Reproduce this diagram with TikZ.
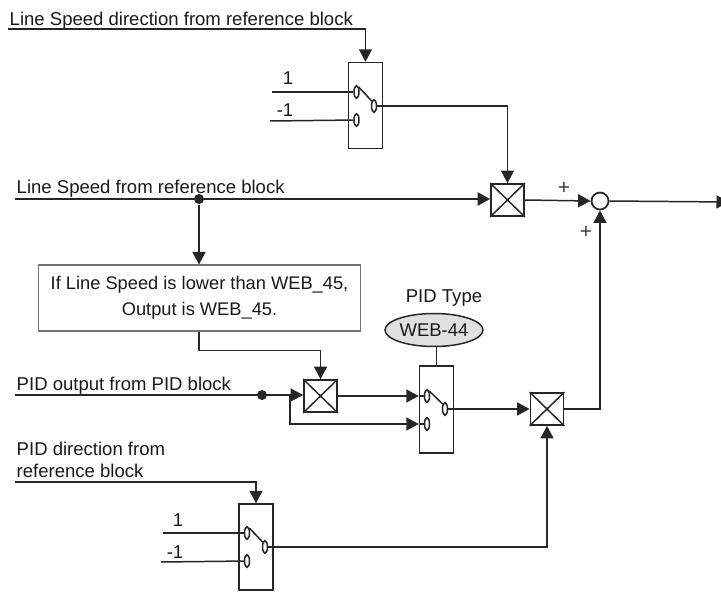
\documentclass[tikz,border=0pt]{standalone}
\usepackage{fontspec}
\setmainfont{Liberation Sans}
\usepackage{xcolor}
\usetikzlibrary{arrows.meta,positioning,shapes}

\begin{document}
\begin{tikzpicture}[x=0.02cm,y=-0.02cm,
    line width=0.85pt, black!85,
    arrow/.style={-{Triangle[length=2.5mm,width=2.6mm]}},
    mainline/.style={line width=1.3pt},
    label/.style={inner sep=0pt, font=\fontsize{10.55}{12}\selectfont, text=black!90},
    multbox/.style={draw, rectangle, inner sep=0pt, minimum width=0.66cm, minimum height=0.64cm, line width=1pt},
    switchbox/.style={draw, rectangle, inner sep=0pt, minimum width=0.68cm, minimum height=1.72cm},
    contact/.style={draw, ellipse, inner sep=0pt, minimum width=0.1cm, minimum height=0.25cm, fill=white, line width=0.85pt},
    junction/.style={circle, fill=black!85, inner sep=0pt, minimum size=0.2cm},
    sumnode/.style={draw, circle, inner sep=0pt, minimum size=0.34cm, line width=1pt},
    plus/.style={inner sep=0pt, font=\fontsize{12}{12}\selectfont, text=black!75}]
    \useasboundingbox (0,0) rectangle (721,592);

    % Top switch (line speed direction)
    \node[label, anchor=west] (dirtext) at (9,21) {Line Speed direction from reference block};
    \coordinate (dirstart) at (8,29);
    \node[switchbox] (swtop) at (365.5,105.5) {};
    \node[contact] (swtopa) at (356.5,92) {};
    \node[contact] (swtopb) at (356.5,120) {};
    \node[contact] (swtopc) at (374,106) {};
    \draw (swtopa.north east) -- (swtopc.north west);
    \draw[arrow] (dirstart) -| (swtop.north);
    \node[label] (onetop) at (288,78) {1};
    \node[label] (minustop) at (285,110) {-1};
    \coordinate (onetopstart) at (272,92);
    \coordinate (minustopstart) at (270,121);
    \draw (onetopstart) -- (swtopa);
    \draw (minustopstart) -- (swtopb);

    % Line speed path
    \node[label, anchor=west] (speedtext) at (16,189) {Line Speed from reference block};
    \coordinate (speedstart) at (15,199);
    \node[multbox] (multtop) at (507.5,200) {};
    \draw (multtop.north west) -- (multtop.south east);
    \draw (multtop.north east) -- (multtop.south west);
    \node[junction] (speeddot) at (199,199) {};
    \draw[arrow, mainline] (speedstart) -- (multtop.west |- speedstart);
    \draw[arrow] (swtopc) -| (multtop.north);

    % Summing point and output
    \node[sumnode] (sum) at (600,201) {};
    \coordinate (outend) at (729,202);
    \draw[arrow] (multtop.east) -- (sum.west);
    \draw[arrow] (sum.east) -- (outend);
    \node[plus] (plusa) at (564,188) {+};
    \node[plus] (plusb) at (586,232) {+};

    % Limit box
    \node[draw=black!55, line width=0.6pt, rectangle, inner sep=0pt, minimum width=6.46cm, minimum height=1.32cm,
        align=center, font=\fontsize{10.4}{15}\selectfont, text=black!90] (limit) at (199.5,298)
        {If Line Speed is lower than WEB\_45,\\Output is WEB\_45.};
    \draw[arrow] (speeddot) -- (limit.north -| speeddot);

    % PID output path
    \node[label, anchor=west] (pidtext) at (16,386) {PID output from PID block};
    \coordinate (pidstart) at (15,395);
    \node[multbox] (multmid) at (320.5,396) {};
    \draw (multmid.north west) -- (multmid.south east);
    \draw (multmid.north east) -- (multmid.south west);
    \node[junction] (piddot) at (262,395) {};
    \coordinate (pidbranch) at (290,395);
    \draw[arrow] (pidstart) -- (multmid.west |- pidstart);
    \draw[arrow] (limit.south -| speeddot) -- ++(0,19) -| (multmid.north);

    % PID type switch
    \node[switchbox, minimum height=1.74cm] (swmid) at (436.5,409.5) {};
    \node[contact] (swmida) at (427,396) {};
    \node[contact] (swmidb) at (427,424) {};
    \node[contact] (swmidc) at (445,409) {};
    \draw (swmida.north east) -- (swmidc.north west);
    \draw[arrow] (multmid.east) -- (swmid.west |- swmida);
    \draw (swmid.west |- swmida) -- (swmida);
    \draw[arrow] (pidbranch) |- (swmid.west |- swmidb);
    \draw (swmid.west |- swmidb) -- (swmidb);
    \node[label] (typetext) at (444,298) {PID Type};
    \node[draw, ellipse, fill=black!12, inner sep=0pt, minimum width=1.96cm, minimum height=0.66cm,
        font=\fontsize{10.5}{12}\selectfont, text=black!90] (webnode) at (434,330) {WEB-44};
    \draw (webnode.south -| swmid) -- (swmid.north);

    % Lower multiplier
    \node[multbox] (multlow) at (547,409) {};
    \draw (multlow.north west) -- (multlow.south east);
    \draw (multlow.north east) -- (multlow.south west);
    \draw[arrow] (swmidc) -- (multlow.west);
    \draw[arrow] (multlow.east) -| (sum.south);

    % Bottom switch (PID direction)
    \node[label, anchor=west] (piddirtext) at (16,449) {PID direction from};
    \node[label, anchor=west] (piddirtextb) at (16,471) {reference block};
    \coordinate (piddirstart) at (15,482);
    \node[switchbox] (swlow) at (256,547) {};
    \node[contact] (swlowa) at (247,533) {};
    \node[contact] (swlowb) at (247,561) {};
    \node[contact] (swlowc) at (265,547) {};
    \draw (swlowa.north east) -- (swlowc.north west);
    \draw[arrow] (piddirstart) -| (swlow.north);
    \node[label] (onelow) at (178,520) {1};
    \node[label] (minuslow) at (175,552) {-1};
    \coordinate (onelowstart) at (163,533);
    \coordinate (minuslowstart) at (161,562);
    \draw (onelowstart) -- (swlowa);
    \draw (minuslowstart) -- (swlowb);
    \draw[arrow] (swlowc) -| (multlow.south);
\end{tikzpicture}
\end{document}
